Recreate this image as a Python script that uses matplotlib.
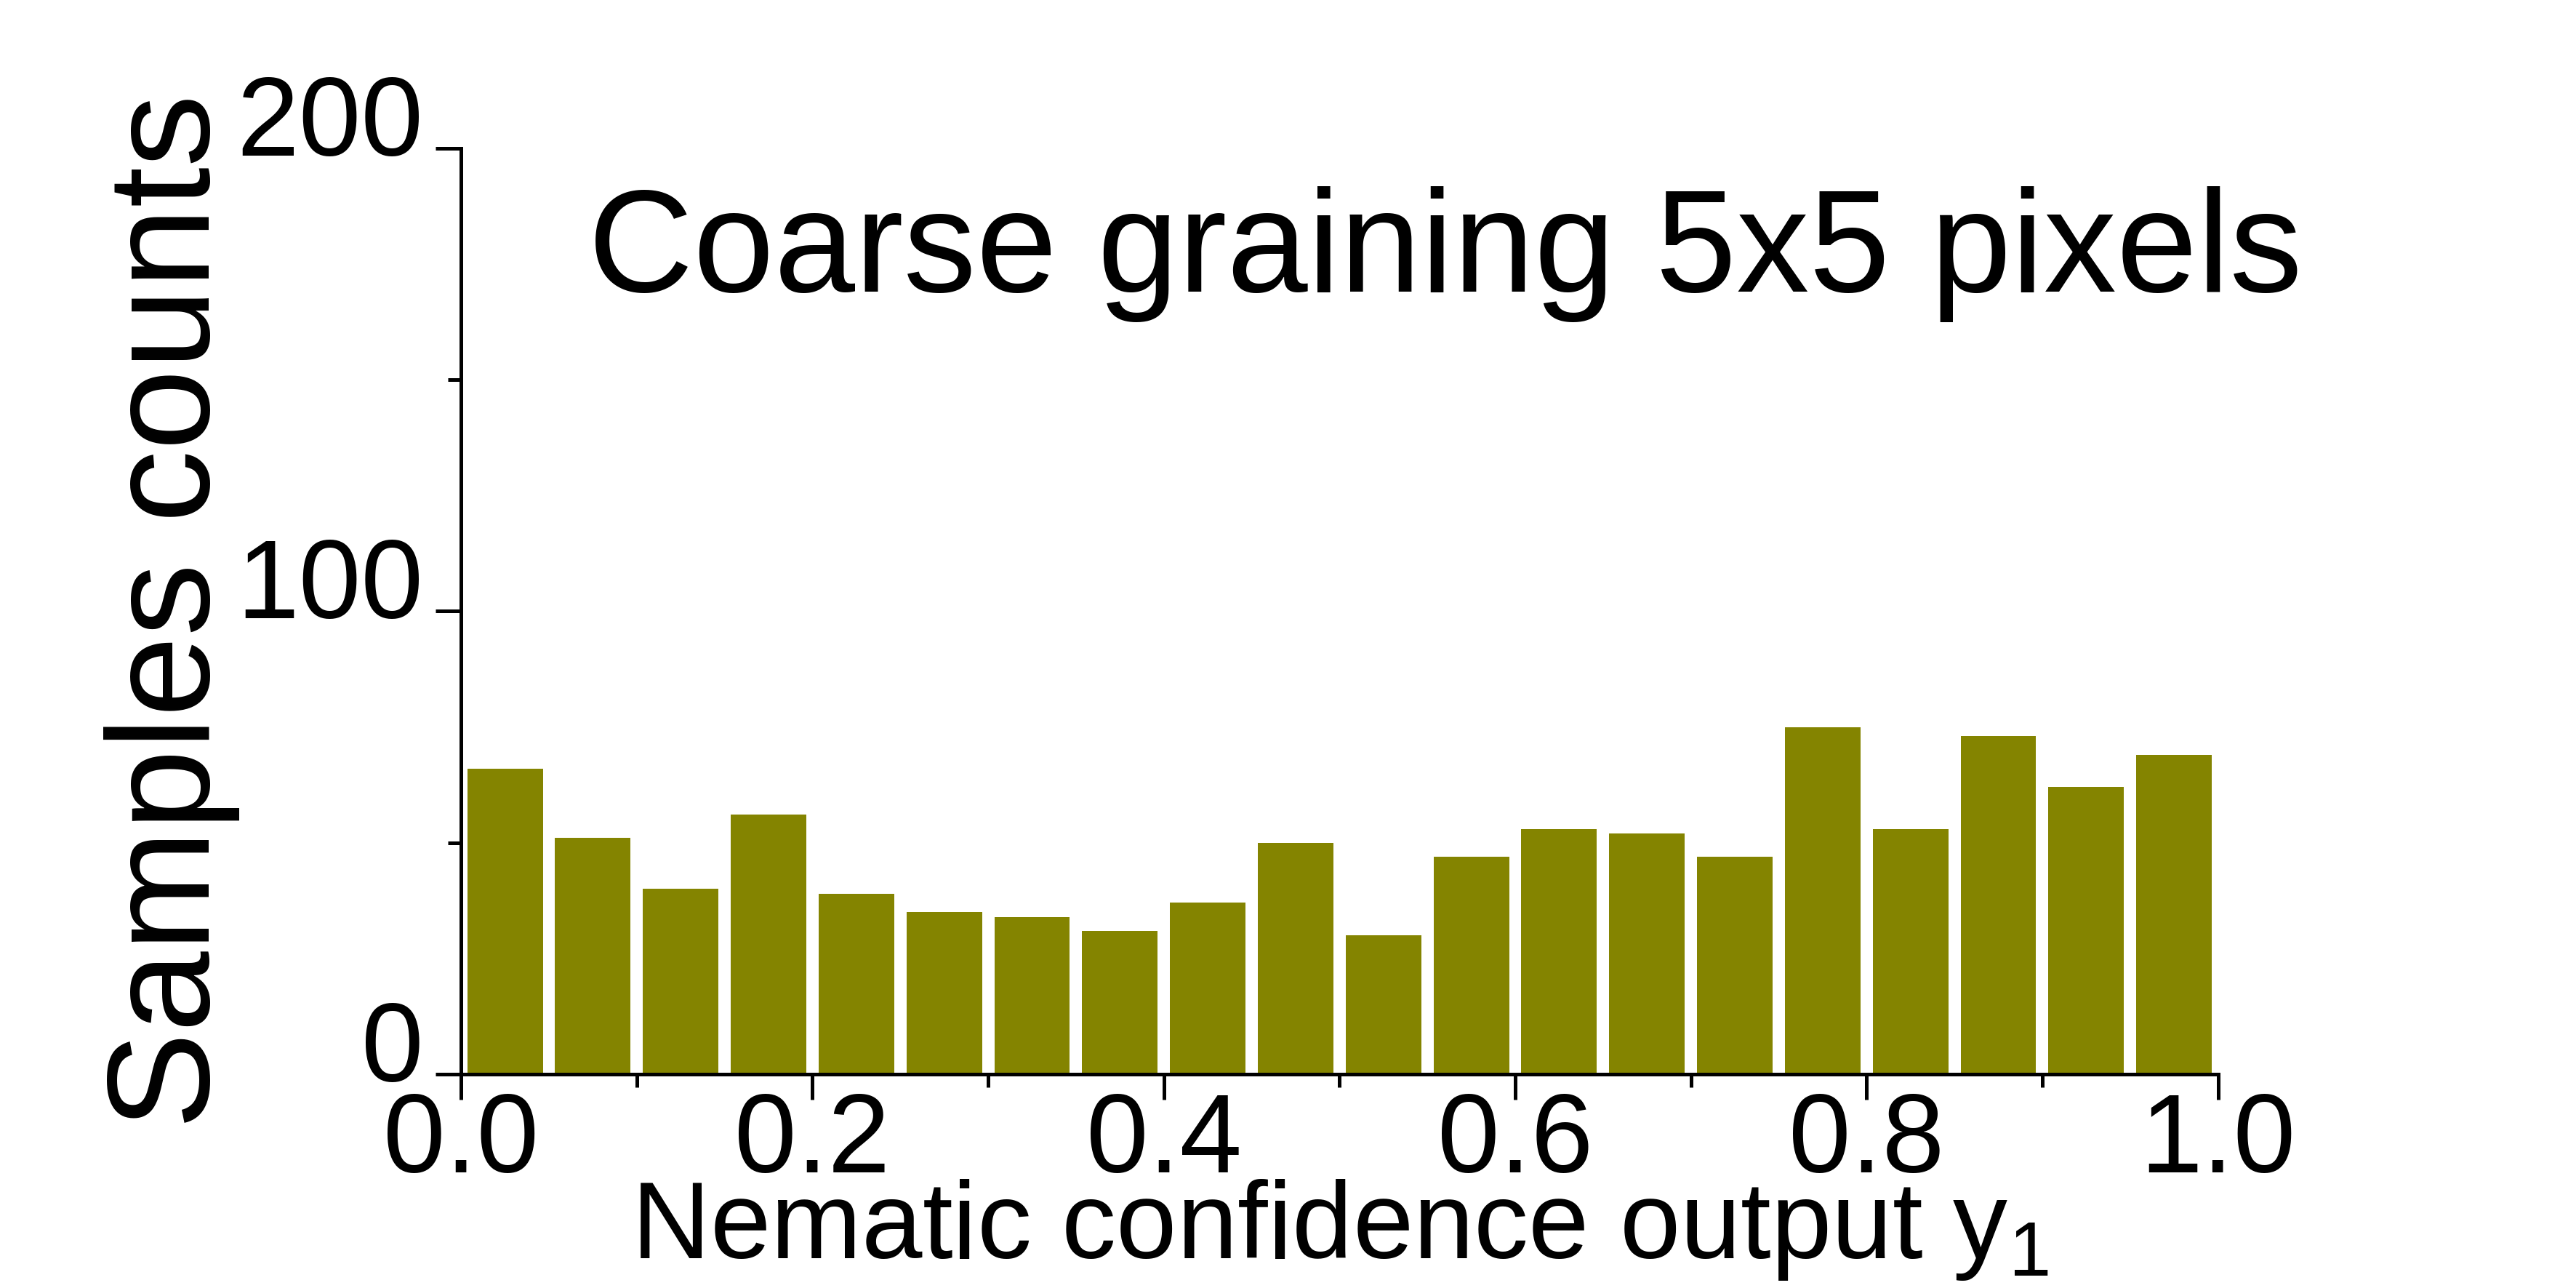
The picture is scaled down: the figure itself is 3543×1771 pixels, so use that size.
import matplotlib
matplotlib.use("Agg")
import matplotlib.pyplot as plt
import matplotlib.transforms as mtransforms
from matplotlib.ticker import MultipleLocator, FormatStrFormatter
import numpy as np

# Histogram data: 20 bins on [0, 1]
bin_edges = [i / 20 for i in range(21)]
counts = [66, 51, 40, 56, 39, 35, 34, 31, 37, 50,
          30, 47, 53, 52, 47, 75, 53, 73, 62, 69]

title_text = "Coarse graining 5x5 pixels"
xlabel_text = r"Nematic confidence output y$_1$"
ylabel_text = "Samples counts"
bar_color = "#848400"

plt.rcParams['font.family'] = ['Liberation Sans', 'DejaVu Sans']
plt.rcParams['mathtext.fontset'] = 'custom'
plt.rcParams['mathtext.rm'] = 'Liberation Sans'
plt.rcParams['mathtext.it'] = 'Liberation Sans'

fig = plt.figure(figsize=(3543 / 300, 1771 / 300), dpi=300)
ax = fig.add_axes([0.179, 0.166, 0.682, 0.719])

edges = np.array(bin_edges)
centers = (edges[:-1] + edges[1:]) / 2
width = (edges[1] - edges[0]) * 0.86
ax.bar(centers, counts, width=width, color=bar_color, edgecolor='none', zorder=2)

ax.set_xlim(0, 1)
ax.set_ylim(0, 200)

for s in ['top', 'right']:
    ax.spines[s].set_visible(False)
for s in ['left', 'bottom']:
    ax.spines[s].set_linewidth(1.2)
    ax.spines[s].set_zorder(3)

ax.xaxis.set_major_locator(MultipleLocator(0.2))
ax.xaxis.set_minor_locator(MultipleLocator(0.1))
ax.xaxis.set_major_formatter(FormatStrFormatter('%.1f'))
ax.yaxis.set_major_locator(MultipleLocator(100))
ax.yaxis.set_minor_locator(MultipleLocator(50))

ax.tick_params(axis='both', which='major', length=8.4, width=1.2, direction='out')
ax.tick_params(axis='both', which='minor', length=4.4, width=1.2, direction='out')
ax.tick_params(axis='x', which='major', pad=-3, labelsize=37)
ax.tick_params(axis='y', which='major', pad=4, labelsize=37)

# y tick labels sit with their baseline slightly below the tick
offset = mtransforms.ScaledTranslation(0, -2.4 / 72, fig.dpi_scale_trans)
for lbl in ax.get_yticklabels():
    lbl.set_verticalalignment('baseline')
    lbl.set_transform(lbl.get_transform() + offset)

ax.set_xlabel(xlabel_text, fontsize=36, labelpad=-6)
ax.set_ylabel(ylabel_text, fontsize=48, labelpad=-1)

ax.text(0.56, 0.845, title_text, transform=ax.transAxes, fontsize=48,
        ha='center', va='baseline')

fig.savefig("out.png", dpi=300)
